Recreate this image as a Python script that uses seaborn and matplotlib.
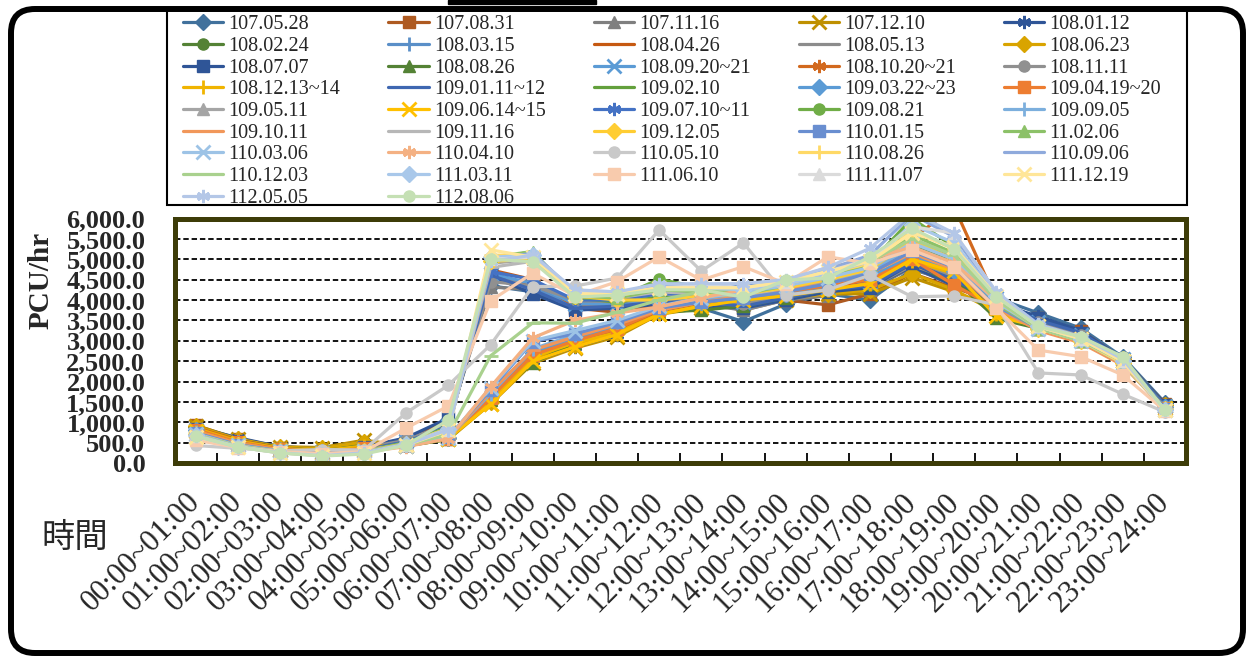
import pandas as pd
import seaborn as sns
import matplotlib.pyplot as plt
from matplotlib.patches import FancyBboxPatch, Rectangle
from matplotlib.ticker import FuncFormatter, FixedLocator

# hour slots
hours = ["00:00~01:00", "01:00~02:00", "02:00~03:00", "03:00~04:00", "04:00~05:00", "05:00~06:00",
         "06:00~07:00", "07:00~08:00", "08:00~09:00", "09:00~10:00", "10:00~11:00", "11:00~12:00",
         "12:00~13:00", "13:00~14:00", "14:00~15:00", "15:00~16:00", "16:00~17:00", "17:00~18:00",
         "18:00~19:00", "19:00~20:00", "20:00~21:00", "21:00~22:00", "22:00~23:00", "23:00~24:00"]

dates = ["107.05.28", "107.08.31", "107.11.16", "107.12.10", "108.01.12",
         "108.02.24", "108.03.15", "108.04.26", "108.05.13", "108.06.23",
         "108.07.07", "108.08.26", "108.09.20~21", "108.10.20~21", "108.11.11",
         "108.12.13~14", "109.01.11~12", "109.02.10", "109.03.22~23", "109.04.19~20",
         "109.05.11", "109.06.14~15", "109.07.10~11", "109.08.21", "109.09.05",
         "109.10.11", "109.11.16", "109.12.05", "110.01.15", "11.02.06",
         "110.03.06", "110.04.10", "110.05.10", "110.08.26", "110.09.06",
         "110.12.03", "111.03.11", "111.06.10", "111.11.07", "111.12.19",
         "112.05.05", "112.08.06"]

colors = ["#41719C", "#AE5A21", "#7F7F7F", "#BF9000", "#2F5597",
          "#548235", "#5A8FC8", "#C65911", "#8C8C8C", "#D9A400",
          "#2F5597", "#548235", "#5B9BD5", "#D2691E", "#909090",
          "#F0B400", "#3F67B1", "#63A03C", "#5B9BD5", "#ED7D31",
          "#A5A5A5", "#FFC000", "#4472C4", "#70AD47", "#7CAFDD",
          "#F1975A", "#B7B7B7", "#FFCD33", "#698ED0", "#8CC168",
          "#9DC3E6", "#F4B183", "#C9C9C9", "#FFD966", "#8FAADC",
          "#A9D18E", "#A9C8EA", "#F8CBAD", "#DBDBDB", "#FFE699",
          "#B4C7E7", "#C5E0B4"]

ast = (6, 2, 0)
markers = ["D", "s", "^", "x", ast, "o", "+", "_", "_"] * 4 + ["D", "s", "^", "x", ast, "o"]

# PCU/hr per date
v01 = [880, 560, 360, 280, 380, 600, 1050, 4350, 4200, 3850, 3800, 3900, 3800, 3470, 3900, 4150, 4000, 4750, 4450, 4050, 3680, 3310, 2600, 1480]
v02 = [930, 580, 380, 300, 420, 560, 950, 4650, 4350, 3800, 3700, 3850, 3850, 3800, 4000, 3880, 4150, 4650, 4300, 3950, 3550, 3250, 2550, 1450]
v03 = [850, 530, 350, 290, 400, 580, 1000, 4320, 4250, 3900, 3850, 3950, 3900, 3750, 4000, 4100, 4250, 4800, 4350, 4000, 3500, 3200, 2500, 1420]
v04 = [920, 600, 400, 380, 560, 420, 580, 1450, 2450, 2820, 3100, 3650, 3800, 3900, 4000, 4150, 4150, 4550, 4200, 3800, 3450, 3150, 2500, 1400]
v05 = [880, 620, 400, 350, 520, 430, 600, 1500, 2500, 2850, 3150, 3700, 3850, 3950, 4050, 4200, 4300, 4820, 4350, 3900, 3600, 3250, 2550, 1450]
v06 = [860, 570, 380, 320, 450, 420, 580, 1550, 2550, 2900, 3200, 3750, 3900, 4000, 4100, 4250, 4350, 4900, 4400, 3850, 3400, 3100, 2500, 1400]
v07 = [800, 520, 340, 270, 360, 560, 980, 4550, 4300, 3850, 3850, 4000, 3950, 3900, 4100, 4200, 4350, 4950, 4500, 4000, 3450, 3150, 2550, 1400]
v08 = [900, 560, 360, 290, 380, 600, 1000, 4740, 4500, 3850, 3800, 3950, 3900, 3850, 4050, 4150, 4300, 4900, 4600, 3950, 3400, 3100, 2500, 1380]
v09 = [830, 520, 340, 270, 360, 580, 950, 4500, 4450, 3950, 3900, 4000, 3950, 3750, 4000, 4150, 4300, 4850, 4500, 4000, 3500, 3150, 2500, 1400]
v10 = [900, 590, 390, 360, 520, 440, 620, 1500, 2550, 2900, 3200, 3700, 3850, 3950, 4050, 4150, 4250, 4650, 4250, 3700, 3400, 3100, 2550, 1420]
v11 = [840, 540, 350, 280, 390, 620, 1100, 4600, 4150, 3750, 3800, 3900, 3850, 3800, 4000, 4200, 4300, 4900, 4450, 4000, 3550, 3200, 2550, 1430]
v12 = [850, 560, 370, 300, 420, 450, 600, 1550, 2450, 2950, 3350, 3700, 3750, 3850, 4050, 4250, 4400, 5000, 4500, 3550, 3300, 3000, 2450, 1380]
v13 = [800, 500, 330, 260, 350, 540, 900, 4650, 4400, 3900, 3900, 4050, 4000, 3950, 4150, 4300, 4450, 5050, 4650, 4050, 3450, 3150, 2550, 1400]
v14 = [870, 560, 360, 300, 400, 440, 620, 1700, 2750, 3000, 3250, 3700, 3900, 4000, 4150, 4300, 4500, 5500, 6280, 4000, 3400, 3100, 2500, 1400]
v15 = [820, 510, 340, 270, 370, 560, 950, 4450, 4350, 4000, 3950, 4050, 4050, 3900, 4100, 4250, 4400, 5000, 4550, 4050, 3450, 3150, 2500, 1380]
v16 = [850, 540, 360, 300, 420, 430, 600, 1550, 2600, 2950, 3200, 3650, 3850, 4000, 4150, 4250, 4400, 4950, 4650, 3650, 3350, 3050, 2500, 1380]
v17 = [780, 490, 320, 250, 330, 520, 900, 4610, 4250, 3800, 3850, 3950, 3950, 3850, 4050, 4250, 4350, 4900, 4500, 3950, 3500, 3200, 2550, 1400]
v18 = [760, 460, 300, 230, 300, 500, 880, 5000, 5190, 4050, 3950, 4100, 4050, 4000, 4200, 4400, 4600, 5350, 4950, 3900, 3350, 3050, 2500, 1350]
v19 = [800, 500, 330, 260, 340, 450, 620, 1650, 2700, 3050, 3350, 3750, 3950, 4050, 4150, 4350, 4550, 5100, 4700, 3900, 3350, 3050, 2500, 1370]
v20 = [820, 510, 340, 270, 360, 440, 600, 1600, 2650, 3000, 3300, 3750, 3950, 4050, 4200, 4350, 4500, 5000, 4370, 3800, 3300, 3000, 2450, 1350]
v21 = [720, 440, 290, 220, 290, 500, 850, 4900, 5000, 4100, 4000, 4150, 4100, 4050, 4250, 4500, 4700, 5400, 5000, 4050, 3300, 3000, 2450, 1320]
v22 = [780, 480, 320, 250, 330, 440, 600, 1450, 2500, 2850, 3150, 3650, 3850, 4000, 4100, 4250, 4400, 5000, 4700, 3600, 3350, 3050, 2500, 1350]
v23 = [760, 470, 310, 240, 310, 520, 900, 4700, 4500, 4000, 4000, 4150, 4150, 4370, 4300, 4550, 4750, 5450, 5050, 4050, 3400, 3050, 2500, 1350]
v24 = [740, 450, 300, 230, 300, 500, 880, 4950, 5100, 4050, 4050, 4510, 4300, 4200, 4350, 4600, 4900, 6000, 5300, 4100, 3300, 3000, 2450, 1320]
v25 = [760, 460, 300, 230, 300, 430, 620, 1700, 2800, 3150, 3450, 3800, 4000, 4100, 4250, 4450, 4700, 5300, 4900, 3850, 3300, 3000, 2450, 1330]
v26 = [780, 480, 320, 250, 320, 440, 620, 1750, 2770, 3100, 3400, 3750, 3950, 4100, 4250, 4400, 4650, 5150, 4750, 3800, 3250, 2950, 2400, 1320]
v27 = [700, 430, 290, 220, 290, 480, 850, 4800, 4950, 4200, 4050, 4200, 4150, 4100, 4300, 4550, 4800, 5500, 5100, 4100, 3300, 3000, 2450, 1300]
v28 = [720, 440, 290, 220, 290, 470, 820, 4950, 5000, 4100, 4000, 4000, 4100, 4150, 4300, 4500, 4750, 5450, 5000, 3950, 3300, 3000, 2450, 1320]
v29 = [740, 450, 300, 230, 300, 440, 640, 1800, 2980, 3170, 3450, 3800, 3950, 4050, 4200, 4400, 4650, 5200, 4800, 3850, 3300, 3000, 2450, 1330]
v30 = [700, 420, 280, 210, 280, 480, 850, 5050, 5190, 4100, 4050, 4250, 4200, 4150, 4350, 4600, 4850, 5600, 5150, 3900, 3300, 3000, 2450, 1300]
v31 = [720, 430, 290, 220, 290, 420, 620, 1850, 3000, 3250, 3500, 3850, 4050, 4200, 4350, 4550, 4800, 5400, 5000, 3950, 3300, 3000, 2450, 1300]
v32 = [700, 420, 280, 210, 270, 400, 600, 1870, 3070, 3500, 3680, 3830, 4050, 4250, 4450, 4800, 5000, 5300, 4900, 4000, 3350, 3050, 2500, 1300]
v33 = [430, 360, 300, 330, 320, 1235, 1910, 2900, 4330, 4340, 4540, 5720, 4710, 5400, 4120, 4250, 4610, 4080, 4100, 3880, 2210, 2160, 1690, 1250]
v34 = [680, 410, 270, 200, 270, 470, 850, 5100, 5100, 4150, 4100, 4300, 4300, 4250, 4400, 4650, 4900, 5700, 5250, 4000, 3300, 3000, 2450, 1300]
v35 = [690, 410, 270, 200, 260, 460, 830, 5000, 5150, 4200, 4150, 4350, 4350, 4300, 4450, 4750, 5100, 6100, 5550, 4150, 3350, 3050, 2500, 1300]
v36 = [700, 420, 280, 210, 270, 450, 700, 2630, 3440, 3430, 3700, 4000, 4200, 4300, 4450, 4700, 4950, 5500, 5100, 4000, 3300, 3000, 2500, 1300]
v37 = [680, 400, 260, 190, 250, 460, 830, 5050, 5100, 4150, 4150, 4300, 4300, 4250, 4400, 4650, 4950, 5850, 5400, 4100, 3350, 3050, 2500, 1300]
v38 = [560, 380, 280, 230, 280, 860, 1400, 3980, 4660, 4100, 4450, 5060, 4490, 4820, 4400, 5060, 4900, 5230, 4820, 3800, 2770, 2610, 2160, 1280]
v39 = [660, 390, 250, 180, 240, 450, 820, 5000, 5050, 4200, 4150, 4300, 4350, 4300, 4450, 4700, 5000, 5800, 5640, 4200, 3350, 3050, 2500, 1300]
v40 = [650, 390, 250, 180, 240, 440, 800, 5230, 5050, 4150, 4150, 4300, 4300, 4300, 4450, 4700, 4950, 5650, 5300, 4100, 3350, 3050, 2500, 1300]
v41 = [660, 390, 250, 180, 250, 450, 820, 4950, 5100, 4250, 4200, 4400, 4400, 4400, 4500, 4800, 5270, 6150, 5640, 4200, 3400, 3100, 2550, 1300]
v42 = [660, 390, 245, 170, 220, 440, 1055, 5000, 4940, 4070, 4120, 4250, 4250, 4070, 4490, 4540, 5060, 5760, 5250, 4080, 3350, 3100, 2610, 1300]

values = [v01, v02, v03, v04, v05, v06, v07, v08, v09, v10, v11, v12, v13, v14,
          v15, v16, v17, v18, v19, v20, v21, v22, v23, v24, v25, v26, v27, v28,
          v29, v30, v31, v32, v33, v34, v35, v36, v37, v38, v39, v40, v41, v42]

sns.set_style("white")
plt.rcParams["font.family"] = ["Liberation Serif", "DejaVu Serif"]

W, H = 1252, 657
fig = plt.figure(figsize=(W / 100, H / 100), dpi=100)
ax = fig.add_axes([174.5 / W, 1 - 463 / H, (1186 - 174.5) / W, (463 - 218.5) / H])

pos = list(range(len(hours)))
for name, vals, col, mk in zip(dates, values, colors, markers):
    unfilled = mk in ("x", "+", "_") or mk == ast
    sns.lineplot(x=pos, y=vals, ax=ax, color=col, marker=mk, label=name,
                 linewidth=2.3, markersize=9.5 if unfilled else 8,
                 markeredgecolor=col, markeredgewidth=2 if unfilled else 1)

ax.set_xlim(-0.5, 23.5)
ax.set_ylim(0, 6000)
ax.set_axisbelow(True)

# y axis
ax.yaxis.set_major_locator(FixedLocator(range(0, 6001, 500)))
ax.yaxis.set_major_formatter(FuncFormatter(lambda v, p: f"{v:,.1f}"))
ax.tick_params(axis="y", length=0, pad=21, labelsize=19)
for t in ax.get_yticklabels():
    t.set_fontweight("bold")
ax.grid(axis="y", color="black", linestyle=(0, (3, 1.6)), linewidth=1.3)
ax.grid(axis="x", visible=False)

# x axis: labels at centers, tick marks between categories
ax.set_xticks(pos)
ax.set_xticklabels(hours, rotation=45, ha="right", rotation_mode="anchor", va="center")
ax.set_xticks([p - 0.5 for p in pos] + [23.5], minor=True)
ax.tick_params(axis="x", which="major", length=0, pad=25, labelsize=22)
ax.tick_params(axis="x", which="minor", direction="in", length=7, width=1.3,
               color="black", bottom=True)
ax.set_xlabel("")
ax.set_ylabel("")

for s in ax.spines.values():
    s.set_color("#3D3C08")
    s.set_linewidth(3.6)

# legend, Excel order is row by row
handles, labels = ax.get_legend_handles_labels()
ncol = 5
order = [r * ncol + c for c in range(ncol) for r in range(9) if r * ncol + c < len(handles)]
leg = ax.legend([handles[i] for i in order], [labels[i] for i in order],
                ncol=ncol, mode="expand", loc="upper left",
                bbox_to_anchor=(178 / W, 1 - 205 / H, 988 / W, 195 / H),
                bbox_transform=fig.transFigure, borderaxespad=0,
                fontsize=14.5, frameon=False,
                handlelength=2.0, handletextpad=0.25, labelspacing=0.13,
                borderpad=0.25, columnspacing=1.0)
fig.patches.append(Rectangle((167, H - 205), 1020, 195, transform=None, fill=False,
                             edgecolor="black", linewidth=1.5))

fig.text(41 / W, 1 - 280 / H, "PCU/hr", rotation=90, ha="center", va="center",
         fontsize=21, fontweight="bold")
fig.text(75 / W, 1 - 537 / H, "時間", ha="center", va="center", fontsize=24,
         family=["Noto Sans CJK TC", "DejaVu Sans"])

# outer rounded frame and cut-off title bar
fig.patches.append(FancyBboxPatch((11, 4), 1232, 644, boxstyle="round,pad=0,rounding_size=24",
                                  transform=None, fill=False, edgecolor="black", linewidth=4.3))
fig.patches.append(Rectangle((448, 653), 148, 4, transform=None, color="black"))

fig.savefig("out.png", dpi=100)
